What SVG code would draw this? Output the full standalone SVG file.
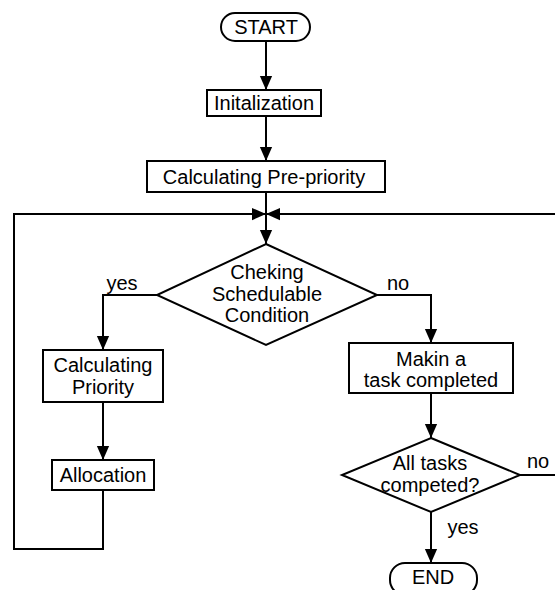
<svg xmlns="http://www.w3.org/2000/svg" width="555" height="590" viewBox="0 0 555 590">
<defs>
<marker id="ah" markerUnits="userSpaceOnUse" markerWidth="14" markerHeight="18" viewBox="0 0 16 14" refX="16" refY="7" orient="auto">
<path d="M0,0 L16,7 L0,14 Z" fill="#000"/>
</marker>
</defs>
<style>
.b{fill:#fff;stroke:#000;stroke-width:2}
.l{fill:none;stroke:#000;stroke-width:2}
text{font-family:"Liberation Sans",Arial,sans-serif;font-size:20px;fill:#000;text-anchor:middle;dominant-baseline:central}
</style>
<rect width="555" height="590" fill="#fff"/>
<g id="connectors">
<line class="l" x1="266" y1="41" x2="266" y2="90" marker-end="url(#ah)"/>
<line class="l" x1="266" y1="116" x2="266" y2="161" marker-end="url(#ah)"/>
<line class="l" x1="266" y1="192" x2="266" y2="244" marker-end="url(#ah)"/>
<polyline class="l" points="103,490 103,549 14,549 14,214 266,214" marker-end="url(#ah)"/>
<polyline class="l" points="520,475 555,475"/>
<line class="l" x1="555" y1="214" x2="266" y2="214" marker-end="url(#ah)"/>
<polyline class="l" points="157,295 103,295 103,350" marker-end="url(#ah)"/>
<polyline class="l" points="377,295 431,295 431,343" marker-end="url(#ah)"/>
<line class="l" x1="103" y1="402" x2="103" y2="460" marker-end="url(#ah)"/>
<line class="l" x1="431" y1="393" x2="431" y2="438" marker-end="url(#ah)"/>
<line class="l" x1="431" y1="512" x2="431" y2="563" marker-end="url(#ah)"/>
<text x="122" y="283">yes</text>
<text x="398" y="283">no</text>
<text x="538" y="461">no</text>
<text x="463" y="527">yes</text>
</g>
<g id="start">
<rect class="b" x="221" y="13" width="89" height="28" rx="14"/>
<text x="266" y="27">START</text>
</g>
<g id="init">
<rect class="b" x="207" y="90" width="114" height="26"/>
<text x="264" y="103">Initalization</text>
</g>
<g id="prepriority">
<rect class="b" x="147" y="161" width="238" height="31"/>
<text x="264" y="176.5">Calculating Pre-priority</text>
</g>
<g id="check">
<polygon class="b" points="266,244 377,295 266,345 157,295"/>
<text x="267" y="272">Cheking</text>
<text x="267" y="294">Schedulable</text>
<text x="267" y="315">Condition</text>
</g>
<g id="priority">
<rect class="b" x="43" y="350" width="120" height="52"/>
<text x="103" y="365">Calculating</text>
<text x="103" y="387">Priority</text>
</g>
<g id="allocation">
<rect class="b" x="52" y="460" width="102" height="30"/>
<text x="103" y="475">Allocation</text>
</g>
<g id="makin">
<rect class="b" x="349" y="343" width="164" height="50"/>
<text x="431" y="359">Makin a</text>
<text x="431" y="380">task completed</text>
</g>
<g id="alltasks">
<polygon class="b" points="431,438 520,475 431,512 342,475"/>
<text x="430" y="463">All tasks</text>
<text x="430" y="485">competed?</text>
</g>
<g id="end">
<rect class="b" x="390" y="563" width="87" height="32" rx="15"/>
<text x="433" y="577">END</text>
</g>
</svg>
